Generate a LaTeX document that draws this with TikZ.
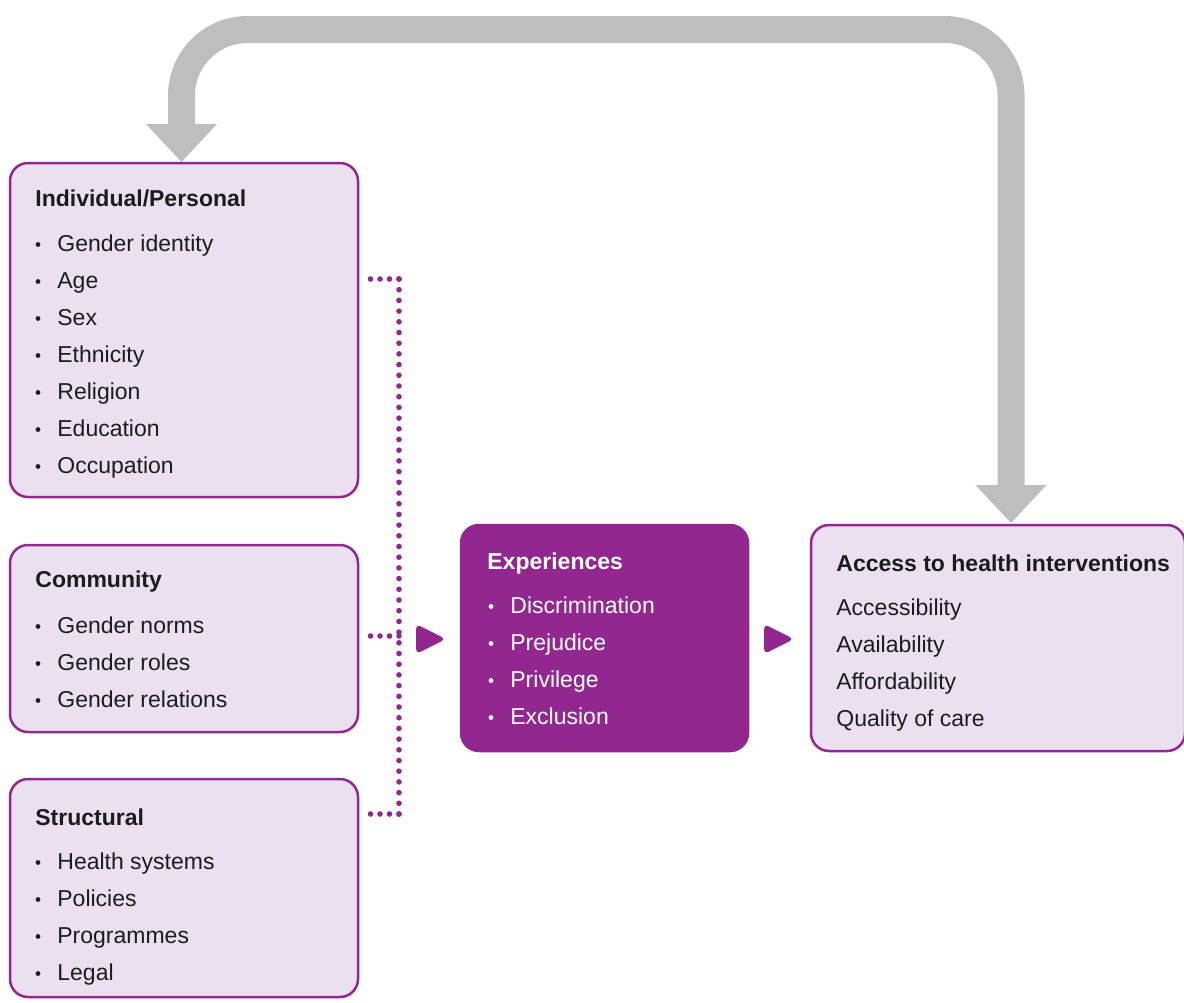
\documentclass[tikz,border=0pt]{standalone}
\usepackage{fontspec}
\setmainfont{Liberation Sans}
\usepackage{xcolor}
\usepackage{tikz}
\usetikzlibrary{arrows.meta, positioning, calc}

\definecolor{vpurple}{RGB}{146,39,143}
\definecolor{vlilac}{RGB}{235,224,239}
\definecolor{vgray}{RGB}{188,190,192}
\definecolor{vtext}{RGB}{28,28,28}

\begin{document}
\begin{tikzpicture}[x=0.5pt, y=-0.5pt,
    factor/.style={draw=vpurple, fill=vlilac, line width=1.25pt, rounded corners=9pt,
                   anchor=north west, inner sep=0pt, outer sep=0pt},
    heading/.style={anchor=base west, inner sep=0pt, text=vtext,
                    font=\bfseries\fontsize{11.5}{14}\selectfont},
    entry/.style={anchor=base west, inner sep=0pt, text=vtext,
                  font=\fontsize{11.5}{14}\selectfont},
    dots/.style={vpurple, line width=2.8pt, line cap=round, dash pattern=on 0pt off 4.75pt},
    feedback/.style={vgray, line width=13.5pt, rounded corners=33pt,
                     {Triangle[width=35.5pt, length=19pt, line width=0pt]}-{Triangle[width=35.5pt, length=19pt, line width=0pt]}},
    pointer/.style={fill=vpurple, rounded corners=2.5pt}]
    \useasboundingbox (0,0) rectangle (1184,1002);

    % Determinant boxes
    \node[factor, minimum width=174pt, minimum height=167pt] (indiv) at (10,163) {};
    \node[factor, minimum width=174pt, minimum height=93.5pt] (commun) at (10,545) {};
    \node[factor, minimum width=174pt, minimum height=109pt] (struct) at (10,779) {};

    % Experiences and access boxes
    \node[factor, fill=vpurple, minimum width=143.5pt, minimum height=113pt] (exper) at (461,525) {};
    \node[factor, minimum width=187pt, minimum height=113pt] (access) at (811,525) {};

    % Individual/Personal
    \node[heading] (indivT) at (35,206) {Individual/Personal};
    \foreach \t [count=\i] in {Gender identity, Age, Sex, Ethnicity, Religion, Education, Occupation} {
        \node[entry] (indiv\i) at (57,{214+37*\i}) {\t};
        \fill[vtext] (38,{207.5+37*\i}) circle (1.2pt);
    }

    % Community
    \node[heading] (communT) at (35,587) {Community};
    \foreach \t [count=\i] in {Gender norms, Gender roles, Gender relations} {
        \node[entry] (commun\i) at (57,{596+37*\i}) {\t};
        \fill[vtext] (38,{589.5+37*\i}) circle (1.2pt);
    }

    % Structural
    \node[heading] (structT) at (35,825) {Structural};
    \foreach \t [count=\i] in {Health systems, Policies, Programmes, Legal} {
        \node[entry] (struct\i) at (57,{832+37*\i}) {\t};
        \fill[vtext] (38,{825.5+37*\i}) circle (1.2pt);
    }

    % Experiences
    \node[heading, text=white] (experT) at (487,569) {Experiences};
    \foreach \t [count=\i] in {Discrimination, Prejudice, Privilege, Exclusion} {
        \node[entry, text=white] (exper\i) at (510,{576+37*\i}) {\t};
        \fill[white] (491,{569.5+37*\i}) circle (1.2pt);
    }

    % Access to health interventions
    \node[heading] (accessT) at (836,571) {Access to health interventions};
    \foreach \t [count=\i] in {Accessibility, Availability, Affordability, Quality of care} {
        \node[entry] (access\i) at (836,{578+37*\i}) {\t};
    }

    % Dotted links into the experiences
    \coordinate (dTop) at (399,279);
    \coordinate (dMid) at (399,636);
    \coordinate (dBot) at (399,814);
    \draw[dots] (dTop) -- ([xshift=1.5pt]indiv.east |- dTop);
    \draw[dots] (dMid) -- ([xshift=1.5pt]commun.east |- dMid);
    \draw[dots] (dBot) -- ([xshift=1.5pt]struct.east |- dBot);
    \draw[dots, dash pattern=on 0pt off 5.35pt] (dTop) -- (dBot);

    % Flow pointers
    \fill[pointer] (416,624) -- (446,639) -- (416,654) -- cycle;
    \fill[pointer] (764,624) -- (794,639) -- (764,654) -- cycle;

    % Feedback arrow
    \coordinate (fbL) at (181.5,162);
    \coordinate (fbR) at (1011,523);
    \draw[feedback] (fbR) -- (fbR |- 0,29.5) -- (fbL |- 0,29.5) -- (fbL);
\end{tikzpicture}
\end{document}
